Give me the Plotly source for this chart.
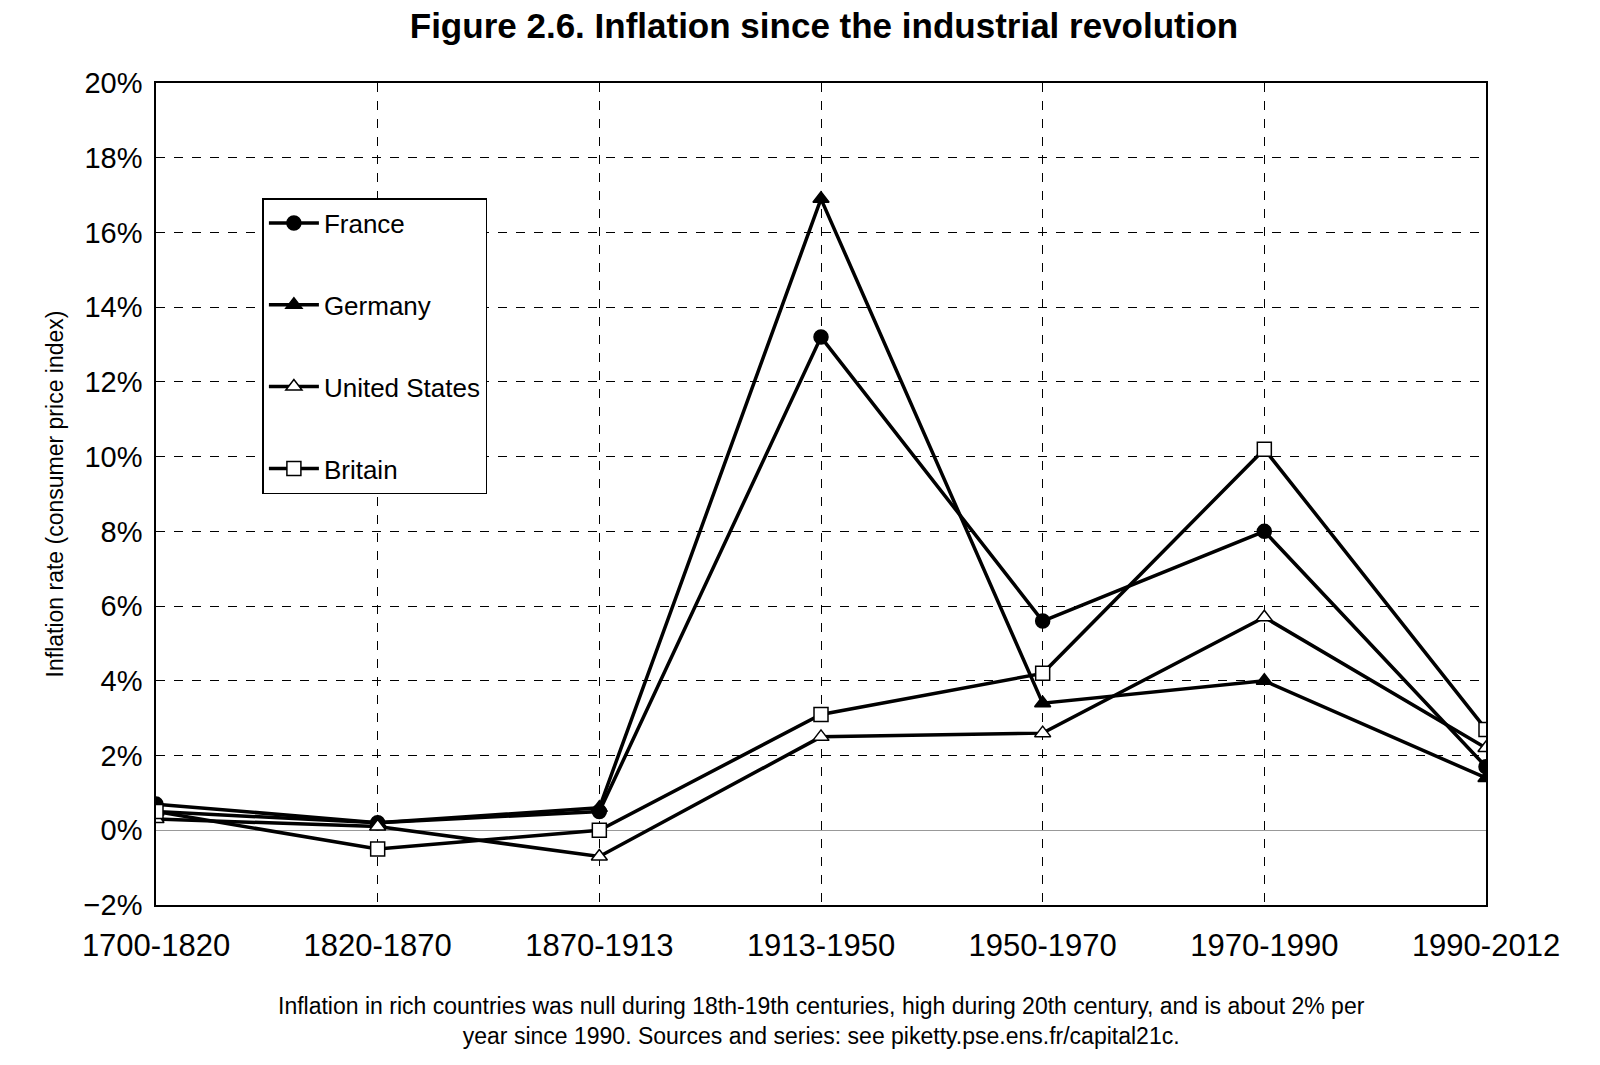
import plotly.graph_objects as go

periods = ["1700-1820", "1820-1870", "1870-1913", "1913-1950", "1950-1970", "1970-1990", "1990-2012"]
france = [0.7, 0.2, 0.5, 13.2, 5.6, 8.0, 1.7]
germany = [0.5, 0.2, 0.6, 16.9, 3.4, 4.0, 1.4]
usa = [0.3, 0.1, -0.7, 2.5, 2.6, 5.7, 2.2]
britain = [0.5, -0.5, 0.0, 3.1, 4.2, 10.2, 2.7]

xs = list(range(len(periods)))
series = [
    ("France", france, "circle", "black"),
    ("Germany", germany, "triangle-up", "black"),
    ("United States", usa, "triangle-up", "white"),
    ("Britain", britain, "square", "white"),
]

fig = go.Figure()
for name, vals, sym, fill in series:
    fig.add_trace(go.Scatter(
        x=xs, y=[v / 100 for v in vals], name=name, mode="lines+markers",
        legendgroup=name,
        line=dict(color="black", width=3.5),
        marker=dict(symbol=sym, size=14, color=fill, line=dict(color="black", width=1.5)),
    ))

grid = dict(showgrid=True, gridcolor="black", griddash="dash", gridwidth=1,
            showline=True, linecolor="black", linewidth=1.5, mirror=True, ticks="")
fig.update_xaxes(tickvals=xs, ticktext=periods, range=[0, 6], zeroline=False,
                 tickfont=dict(size=31), ticklabelstandoff=12, **grid)
fig.update_yaxes(range=[-0.02, 0.20], dtick=0.02, tickformat=".0%",
                 zeroline=True, zerolinecolor="#999", zerolinewidth=1,
                 tickfont=dict(size=29), ticklabelstandoff=6,
                 title=dict(text="Inflation rate (consumer price index)", font=dict(size=23),
                            standoff=14),
                 **grid)

fig.update_layout(
    width=1600, height=1065,
    paper_bgcolor="white", plot_bgcolor="white",
    font=dict(family="Liberation Sans, Arial", color="black"),
    title=dict(text="<b>Figure 2.6. Inflation since the industrial revolution</b>",
               x=0.51, xanchor="center", y=0.995, yanchor="top", font=dict(size=35)),
    margin=dict(l=148, r=122, t=75, b=168),
    showlegend=True,
    legend=dict(x=0.08, y=0.86, xanchor="left", yanchor="top",
                bgcolor="white", bordercolor="black", borderwidth=1.5,
                font=dict(size=26), tracegroupgap=45, itemwidth=50,
                entrywidth=290),
    annotations=[dict(
        text="Inflation in rich countries was null during 18th-19th centuries, high during 20th century, and is about 2% per<br>year since 1990. Sources and series: see piketty.pse.ens.fr/capital21c.",
        x=0.5, xref="paper", y=-0.105, yref="paper", yanchor="top",
        showarrow=False, font=dict(size=23), align="center")],
)

fig.write_html("out.html")
